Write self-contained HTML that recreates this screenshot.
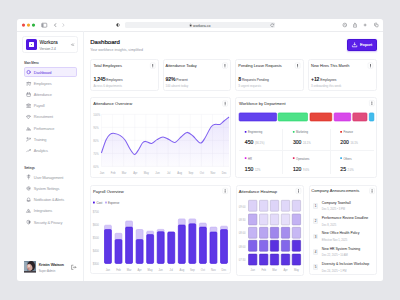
<!DOCTYPE html>
<html><head><meta charset="utf-8">
<style>
*{margin:0;padding:0;box-sizing:border-box}
html,body{width:400px;height:300px;overflow:hidden;background:#e5e6ea;font-family:"Liberation Sans",sans-serif;color:#1b1c22;position:relative}
.a{position:absolute}
.t{position:absolute;white-space:nowrap;line-height:1}
.kb{position:absolute;width:4.4px;height:4.8px;border:0.5px solid #dfe1e6;border-radius:0.9px;background:#fff}
.kb:after{content:"";position:absolute;left:1.45px;top:0.8px;width:0.6px;height:0.6px;background:#666;box-shadow:0 1.05px 0 #666,0 2.1px 0 #666;border-radius:50%}
</style></head><body>
<div class="a" style="left:16.8px;top:18.5px;width:366.60px;height:262.50px;background:#fff;border-radius:2.5px"></div>
<div class="a" style="left:17px;top:31px;width:366.00px;height:0.50px;background:#ebecef"></div>
<svg class="a" style="left:0;top:0" width="400" height="300"><circle cx="23.5" cy="25.1" r="1.6" fill="#ec4a45"/><circle cx="28.5" cy="25.1" r="1.6" fill="#f4a629"/><circle cx="33.5" cy="25.1" r="1.6" fill="#2cb43e"/></svg>
<svg class="a" style="left:0;top:0" width="400" height="300"><rect x="41.7" y="23.2" width="5.1" height="4" rx="0.7" fill="none" stroke="#707279" stroke-width="0.55"/><rect x="41.9" y="23.4" width="1.6" height="3.6" fill="#9a9ca3"/></svg>
<div class="a" style="left:125px;top:21.8px;width:150.00px;height:6.40px;background:#f0f1f3;border-radius:1.6px"></div>
<svg class="a" style="left:0;top:0" width="400" height="300"><path d="M56,23.4 L54.5,25.1 L56,26.8" fill="none" stroke="#5a5c63" stroke-width="0.6"/><path d="M62.6,23.4 L64.1,25.1 L62.6,26.8" fill="none" stroke="#b0b2b8" stroke-width="0.55"/><circle cx="118" cy="25" r="1.4" fill="none" stroke="#444" stroke-width="0.5"/><path d="M118,23.6 A1.4,1.4 0 0 0 118,26.4Z" fill="#444"/><path d="M273.4,24.4 A1.45,1.45 0 1 0 273.6,25.6" fill="none" stroke="#707279" stroke-width="0.5"/><path d="M273.9,23.4 V24.6 H272.7" fill="none" stroke="#707279" stroke-width="0.45"/><circle cx="344.8" cy="25" r="1.85" fill="none" stroke="#6a6c73" stroke-width="0.5"/><path d="M344,25.6 L344.8,24.4 L345.6,25.6" fill="none" stroke="#6a6c73" stroke-width="0.45"/><path d="M354.2,24.5 H353.6 V27.2 H356.4 V24.5 H355.8 M355,25.8 V22.9 M354.2,23.7 L355,22.9 L355.8,23.7" fill="none" stroke="#6a6c73" stroke-width="0.5"/><path d="M365.1,23.6 V26.4 M363.7,25 H366.5" fill="none" stroke="#6a6c73" stroke-width="0.55"/><rect x="375.6" y="24.3" width="2.5" height="2.5" rx="0.6" fill="none" stroke="#6a6c73" stroke-width="0.5"/><path d="M374.5,25.8 V23.8 A0.6,0.6 0 0 1 375.1,23.2 H377" fill="none" stroke="#6a6c73" stroke-width="0.5"/></svg>
<svg class="a" style="left:0;top:0" width="400" height="300"><rect x="189.8" y="25" width="1.7" height="1.4" fill="#444"/><path d="M190.15,25.1 V24.4 A0.5,0.5 0 0 1 191.15,24.4 V25.1" fill="none" stroke="#444" stroke-width="0.35"/></svg>
<div class="t" style="left:193.1px;top:25px;font-size:3.55px;color:#3a3b40;font-weight:normal;">workora.co</div>
<div class="a" style="left:83.2px;top:31.3px;width:0.60px;height:249.50px;background:#eef0f3"></div>
<div class="a" style="left:21.6px;top:36px;width:56.90px;height:17.10px;border:0.5px solid #f0f1f4;border-radius:2.5px"></div>
<div class="a" style="left:25.9px;top:39.3px;width:10.80px;height:10.80px;background:#5118e2;border-radius:1.6px"></div>
<div class="a" style="left:28.6px;top:42px;width:5.10px;height:5.10px;background:#fff;border-radius:0.5px"></div>
<div class="a" style="left:30.55px;top:43.95px;width:1.20px;height:1.20px;background:#5118e2;border-radius:50%"></div>
<div class="t" style="left:39.5px;top:41px;font-size:4.85px;color:#1b1c22;font-weight:normal;-webkit-text-stroke:0.06px #1b1c22">Workora</div>
<div class="t" style="left:39.5px;top:48px;font-size:3.25px;color:#6e717a;font-weight:normal;">Version 2.4</div>
<svg class="a" style="left:0;top:0" width="400" height="300"><path d="M72.5,43.6 L71.5,44.7 L72.5,45.8 M73.9,43.6 L72.9,44.7 L73.9,45.8" fill="none" stroke="#55575e" stroke-width="0.45"/></svg>
<div class="t" style="left:24.2px;top:62px;font-size:2.95px;color:#2e2f36;font-weight:normal;-webkit-text-stroke:0.05px #2e2f36">Main Menu</div>
<div class="a" style="left:23.7px;top:67.3px;width:53.20px;height:9.40px;background:#f3effe;border:0.5px solid #dcd2fb;border-radius:1.8px"></div>
<div class="t" style="left:33.8px;top:71px;font-size:3.9px;color:#5b2ee0;font-weight:normal;letter-spacing:-0.17px">Dashboard</div>
<div class="t" style="left:33.8px;top:82px;font-size:3.9px;color:#979aa4;font-weight:normal;letter-spacing:-0.17px">Employees</div>
<div class="t" style="left:33.8px;top:93px;font-size:3.9px;color:#979aa4;font-weight:normal;letter-spacing:-0.17px">Attendance</div>
<div class="t" style="left:33.8px;top:104px;font-size:3.9px;color:#979aa4;font-weight:normal;letter-spacing:-0.17px">Payroll</div>
<div class="t" style="left:33.8px;top:115px;font-size:3.9px;color:#979aa4;font-weight:normal;letter-spacing:-0.17px">Recruitment</div>
<div class="t" style="left:33.8px;top:127px;font-size:3.9px;color:#979aa4;font-weight:normal;letter-spacing:-0.17px">Performance</div>
<div class="t" style="left:33.8px;top:138px;font-size:3.9px;color:#979aa4;font-weight:normal;letter-spacing:-0.17px">Training</div>
<div class="t" style="left:33.8px;top:149px;font-size:3.9px;color:#979aa4;font-weight:normal;letter-spacing:-0.17px">Analytics</div>
<div class="t" style="left:24.2px;top:167px;font-size:2.95px;color:#2e2f36;font-weight:normal;-webkit-text-stroke:0.05px #2e2f36">Settings</div>
<div class="t" style="left:33.8px;top:176px;font-size:3.9px;color:#979aa4;font-weight:normal;letter-spacing:-0.17px">User Management</div>
<div class="t" style="left:33.8px;top:187px;font-size:3.9px;color:#979aa4;font-weight:normal;letter-spacing:-0.17px">System Settings</div>
<div class="t" style="left:33.8px;top:198px;font-size:3.9px;color:#979aa4;font-weight:normal;letter-spacing:-0.17px">Notification &amp; Alerts</div>
<div class="t" style="left:33.8px;top:209px;font-size:3.9px;color:#979aa4;font-weight:normal;letter-spacing:-0.17px">Integrations</div>
<div class="t" style="left:33.8px;top:221px;font-size:3.9px;color:#979aa4;font-weight:normal;letter-spacing:-0.17px">Security &amp; Privacy</div>
<svg class="a" style="left:0;top:0" width="400" height="300" fill="none" stroke="#80838d" stroke-width="0.5" stroke-linejoin="round" stroke-linecap="round"><circle cx="28.6" cy="72.1" r="1.65" stroke="#5b2ee0" stroke-width="0.6"/><circle cx="27.1" cy="82.9" r="0.5"/><circle cx="28.6" cy="82.6" r="0.55"/><circle cx="30.1" cy="82.9" r="0.5"/><path d="M26.4,84.9 Q27.1,83.7 27.8,84.9 M27.8,84.9 Q28.6,83.4 29.4,84.9 M29.4,84.9 Q30.1,83.7 30.8,84.9"/><rect x="26.8" y="93.2" width="3.6" height="3.3" rx="0.5"/><path d="M27.7,92.6 V93.6 M29.5,92.6 V93.6 M26.8,94.3 H30.4"/><path d="M26.7,104.7 L28.6,103.7 L30.5,104.7 Z M27.3,105 V107 M28.6,105 V107 M29.9,105 V107 M26.7,107.4 H30.5"/><path d="M26.8,116.3 L27.7,115.4 H29.5 L30.4,116.3 L28.6,118.5 Z M26.8,116.3 H30.4"/><path d="M26.7,130 H30.5 M27,130 L28,127.3 L29,130 M28.6,130 L29.5,128.5 L30.3,130"/><circle cx="27.4" cy="138.2" r="0.6"/><path d="M26.6,141.1 Q26.9,139.4 28.2,139.7 M28.7,140 L30.4,138.2 M29.6,138.2 H30.4 V139"/><path d="M26.7,151.8 L27.9,150.5 L28.8,151.1 L30.4,149.6 M29.6,149.6 H30.4 V150.4"/><path d="M28.6,179 V175.9 M27.1,175.9 H30.1 M27.6,177.3 H29.6"/><circle cx="28.6" cy="175.2" r="0.45"/><circle cx="28.6" cy="188.4" r="0.8"/><circle cx="28.6" cy="188.4" r="1.7" stroke-dasharray="0.7 0.45"/><path d="M27.3,200.8 V199.2 A1.3,1.3 0 0 1 29.9,199.2 V200.8 H26.9 H30.3 M28.2,201.4 H29"/><path d="M28.6,209.3 L30.4,212.4 H26.8 Z"/><circle cx="28.6" cy="211.2" r="0.35"/><path d="M28.6,220.4 L30.2,221.1 V222.4 Q30.1,223.6 28.6,224.1 Q27.1,223.6 27,222.4 V221.1 Z"/><path d="M28.6,220.6 V223.9 Q30,223.4 30.1,222.2 V221.2 Z" fill="#80838d" stroke="none"/></svg>
<svg class="a" style="left:0;top:0" width="400" height="300"><defs><clipPath id="av"><rect x="23.9" y="260.9" width="12.2" height="11.7" rx="0.6"/></clipPath><filter id="bl"><feGaussianBlur stdDeviation="0.35"/></filter></defs><g clip-path="url(#av)"><rect x="23.9" y="260.9" width="12.2" height="11.7" fill="#6f8596"/><g filter="url(#bl)"><rect x="23.9" y="262" width="3" height="9" fill="#98aab8"/><ellipse cx="31.2" cy="266" rx="3.9" ry="5" fill="#2a2226"/><ellipse cx="29.6" cy="267.2" rx="2.7" ry="3.5" fill="#d2a79c" transform="rotate(-20 29.6 267.2)"/><ellipse cx="29" cy="266" rx="1.2" ry="1.2" fill="#ecd0c8"/><ellipse cx="28.6" cy="269" rx="0.9" ry="0.45" fill="#b04a50"/><rect x="23.9" y="271.2" width="12.2" height="2" fill="#3c3236"/></g></g></svg>
<div class="t" style="left:38.7px;top:263px;font-size:3.95px;color:#1b1c22;font-weight:normal;-webkit-text-stroke:0.1px #1b1c22">Kristin Watson</div>
<div class="t" style="left:38.7px;top:270px;font-size:2.9px;color:#8d909b;font-weight:normal;">Super Admin</div>
<svg class="a" style="left:0;top:0" width="400" height="300" fill="none" stroke="#555" stroke-width="0.5"><path d="M73.4,265.2 H71.6 V269.4 H73.4 M72.9,267.3 H76 M75,266.3 L76,267.3 L75,268.3"/></svg>
<div class="t" style="left:90.2px;top:39px;font-size:6.1px;color:#16171d;font-weight:normal;-webkit-text-stroke:0.2px #16171d">Dashboard</div>
<div class="t" style="left:90.2px;top:49px;font-size:3.52px;color:#9296a3;font-weight:normal;">Your workforce insights, simplified</div>
<div class="a" style="left:347.1px;top:38.7px;width:29.90px;height:12.10px;background:#5a1fe8;border:0.5px solid #4913d8;border-radius:1.6px;box-shadow:0 0.5px 1.5px rgba(90,31,232,0.25)"></div>
<svg class="a" style="left:0;top:0" width="400" height="300"><path d="M354.6,42.4 V45 M353.5,44 L354.6,45.2 L355.7,44" fill="none" stroke="#fff" stroke-width="0.7"/><path d="M352.4,45.4 V46.8 H356.8 V45.4" fill="none" stroke="#fff" stroke-width="0.7"/></svg>
<div class="t" style="left:360px;top:43px;font-size:4.2px;color:#fff;font-weight:normal;-webkit-text-stroke:0.12px #fff">Export</div>
<div class="a" style="left:90.3px;top:59.2px;width:68.90px;height:32.00px;background:#fff;border:0.5px solid #f0f1f4;border-radius:2.5px"></div>
<div class="t" style="left:93.39999999999999px;top:64px;font-size:3.9px;color:#1b1c22;font-weight:normal;">Total Employees</div>
<svg class="a" style="left:0;top:0" width="400" height="300"><rect x="150.30" y="62.90" width="4.9" height="5.4" rx="1" fill="#fff" stroke="#e6e8ec" stroke-width="0.5"/><circle cx="152.75" cy="64.40" r="0.5" fill="#45474e"/><circle cx="152.75" cy="65.60" r="0.5" fill="#45474e"/><circle cx="152.75" cy="66.80" r="0.5" fill="#45474e"/></svg>
<div class="t" style="left:93.39999999999999px;top:76.6px;font-size:5.2px;font-weight:bold;letter-spacing:-0.2px;color:#16171d">1,245<span style="font-size:3.3px;font-weight:normal;letter-spacing:0;color:#3a3b44;margin-left:0.9px">Employees</span></div>
<div class="t" style="left:93.39999999999999px;top:85px;font-size:2.95px;color:#b3b6be;font-weight:normal;">Across 6 departments</div>
<div class="a" style="left:162.5px;top:59.2px;width:68.90px;height:32.00px;background:#fff;border:0.5px solid #f0f1f4;border-radius:2.5px"></div>
<div class="t" style="left:165.6px;top:64px;font-size:3.9px;color:#1b1c22;font-weight:normal;">Attendance Today</div>
<svg class="a" style="left:0;top:0" width="400" height="300"><rect x="222.50" y="62.90" width="4.9" height="5.4" rx="1" fill="#fff" stroke="#e6e8ec" stroke-width="0.5"/><circle cx="224.95" cy="64.40" r="0.5" fill="#45474e"/><circle cx="224.95" cy="65.60" r="0.5" fill="#45474e"/><circle cx="224.95" cy="66.80" r="0.5" fill="#45474e"/></svg>
<div class="t" style="left:165.6px;top:76.6px;font-size:5.2px;font-weight:bold;letter-spacing:-0.2px;color:#16171d">92%<span style="font-size:3.3px;font-weight:normal;letter-spacing:0;color:#3a3b44;margin-left:0.9px">Present</span></div>
<div class="t" style="left:165.6px;top:85px;font-size:2.95px;color:#b3b6be;font-weight:normal;">100 absent today</div>
<div class="a" style="left:235.2px;top:59.2px;width:68.90px;height:32.00px;background:#fff;border:0.5px solid #f0f1f4;border-radius:2.5px"></div>
<div class="t" style="left:238.29999999999998px;top:64px;font-size:3.9px;color:#1b1c22;font-weight:normal;">Pending Leave Requests</div>
<svg class="a" style="left:0;top:0" width="400" height="300"><rect x="295.20" y="62.90" width="4.9" height="5.4" rx="1" fill="#fff" stroke="#e6e8ec" stroke-width="0.5"/><circle cx="297.65" cy="64.40" r="0.5" fill="#45474e"/><circle cx="297.65" cy="65.60" r="0.5" fill="#45474e"/><circle cx="297.65" cy="66.80" r="0.5" fill="#45474e"/></svg>
<div class="t" style="left:238.29999999999998px;top:76.6px;font-size:5.2px;font-weight:bold;letter-spacing:-0.2px;color:#16171d">8<span style="font-size:3.3px;font-weight:normal;letter-spacing:0;color:#3a3b44;margin-left:0.9px">Requests Pending</span></div>
<div class="t" style="left:238.29999999999998px;top:85px;font-size:2.95px;color:#b3b6be;font-weight:normal;">3 urgent requests</div>
<div class="a" style="left:308px;top:59.2px;width:68.90px;height:32.00px;background:#fff;border:0.5px solid #f0f1f4;border-radius:2.5px"></div>
<div class="t" style="left:311.1px;top:64px;font-size:3.9px;color:#1b1c22;font-weight:normal;">New Hires This Month</div>
<svg class="a" style="left:0;top:0" width="400" height="300"><rect x="368.00" y="62.90" width="4.9" height="5.4" rx="1" fill="#fff" stroke="#e6e8ec" stroke-width="0.5"/><circle cx="370.45" cy="64.40" r="0.5" fill="#45474e"/><circle cx="370.45" cy="65.60" r="0.5" fill="#45474e"/><circle cx="370.45" cy="66.80" r="0.5" fill="#45474e"/></svg>
<div class="t" style="left:311.1px;top:76.6px;font-size:5.2px;font-weight:bold;letter-spacing:-0.2px;color:#16171d">+12<span style="font-size:3.3px;font-weight:normal;letter-spacing:0;color:#3a3b44;margin-left:0.9px">Employees</span></div>
<div class="t" style="left:311.1px;top:85px;font-size:2.95px;color:#b3b6be;font-weight:normal;">3 onboarding this week</div>
<div class="a" style="left:90.3px;top:97.3px;width:140.60px;height:80.60px;background:#fff;border:0.5px solid #f0f1f4;border-radius:2.5px"></div>
<div class="t" style="left:93.2px;top:102px;font-size:4.1px;color:#1b1c22;font-weight:normal;">Attendance Overview</div>
<svg class="a" style="left:0;top:0" width="400" height="300"><rect x="222.70" y="100.80" width="4.9" height="5.4" rx="1" fill="#fff" stroke="#e6e8ec" stroke-width="0.5"/><circle cx="225.15" cy="102.30" r="0.5" fill="#45474e"/><circle cx="225.15" cy="103.50" r="0.5" fill="#45474e"/><circle cx="225.15" cy="104.70" r="0.5" fill="#45474e"/></svg>
<svg class="a" style="left:0;top:0" width="400" height="300"><defs><linearGradient id="af" x1="0" y1="0" x2="0" y2="1"><stop offset="0" stop-color="#7b5cf0" stop-opacity="0.16"/><stop offset="1" stop-color="#7b5cf0" stop-opacity="0.02"/></linearGradient></defs><line x1="101.4" y1="114.4" x2="229" y2="114.4" stroke="#f0f1f4" stroke-width="0.4"/><line x1="101.4" y1="127.4" x2="229" y2="127.4" stroke="#f0f1f4" stroke-width="0.4"/><line x1="101.4" y1="140.4" x2="229" y2="140.4" stroke="#f0f1f4" stroke-width="0.4"/><line x1="101.4" y1="153.4" x2="229" y2="153.4" stroke="#f0f1f4" stroke-width="0.4"/><line x1="101.4" y1="166.4" x2="229" y2="166.4" stroke="#f0f1f4" stroke-width="0.4"/><line x1="101.50" y1="114.4" x2="101.50" y2="166.4" stroke="#f0f1f4" stroke-width="0.4"/><line x1="112.60" y1="114.4" x2="112.60" y2="166.4" stroke="#f0f1f4" stroke-width="0.4"/><line x1="123.70" y1="114.4" x2="123.70" y2="166.4" stroke="#f0f1f4" stroke-width="0.4"/><line x1="134.80" y1="114.4" x2="134.80" y2="166.4" stroke="#f0f1f4" stroke-width="0.4"/><line x1="145.90" y1="114.4" x2="145.90" y2="166.4" stroke="#f0f1f4" stroke-width="0.4"/><line x1="157.00" y1="114.4" x2="157.00" y2="166.4" stroke="#f0f1f4" stroke-width="0.4"/><line x1="168.10" y1="114.4" x2="168.10" y2="166.4" stroke="#f0f1f4" stroke-width="0.4"/><line x1="179.20" y1="114.4" x2="179.20" y2="166.4" stroke="#f0f1f4" stroke-width="0.4"/><line x1="190.30" y1="114.4" x2="190.30" y2="166.4" stroke="#f0f1f4" stroke-width="0.4"/><line x1="201.40" y1="114.4" x2="201.40" y2="166.4" stroke="#f0f1f4" stroke-width="0.4"/><line x1="212.50" y1="114.4" x2="212.50" y2="166.4" stroke="#f0f1f4" stroke-width="0.4"/><line x1="223.60" y1="114.4" x2="223.60" y2="166.4" stroke="#f0f1f4" stroke-width="0.4"/><path d="M101.4,153 C102.17,150.83 104.57,143.10 106,140 C107.43,136.90 108.60,135.50 110,134.4 C111.40,133.30 112.73,133.23 114.4,133.4 C116.07,133.57 118.23,134.30 120,135.4 C121.77,136.50 123.33,137.73 125,140 C126.67,142.27 128.40,146.60 130,149 C131.60,151.40 133.10,154.40 134.6,154.4 C136.10,154.40 137.70,150.90 139,149 C140.30,147.10 141.30,144.27 142.4,143 C143.50,141.73 144.07,141.33 145.6,141.4 C147.13,141.47 149.70,143.70 151.6,143.4 C153.50,143.10 155.10,140.67 157,139.6 C158.90,138.53 161.00,137.00 163,137 C165.00,137.00 167.00,138.70 169,139.6 C171.00,140.50 173.00,142.83 175,142.4 C177.00,141.97 179.00,138.67 181,137 C183.00,135.33 185.00,132.57 187,132.4 C189.00,132.23 191.33,134.67 193,136 C194.67,137.33 195.67,139.23 197,140.4 C198.33,141.57 199.67,143.40 201,143 C202.33,142.60 203.33,140.67 205,138 C206.67,135.33 209.33,129.27 211,127 C212.67,124.73 213.50,124.83 215,124.4 C216.50,123.97 218.50,124.97 220,124.4 C221.50,123.83 222.50,122.23 224,121 C225.50,119.77 228.17,117.67 229,117 L229,166.4 L101.4,166.4 Z" fill="url(#af)"/><path d="M101.4,153 C102.17,150.83 104.57,143.10 106,140 C107.43,136.90 108.60,135.50 110,134.4 C111.40,133.30 112.73,133.23 114.4,133.4 C116.07,133.57 118.23,134.30 120,135.4 C121.77,136.50 123.33,137.73 125,140 C126.67,142.27 128.40,146.60 130,149 C131.60,151.40 133.10,154.40 134.6,154.4 C136.10,154.40 137.70,150.90 139,149 C140.30,147.10 141.30,144.27 142.4,143 C143.50,141.73 144.07,141.33 145.6,141.4 C147.13,141.47 149.70,143.70 151.6,143.4 C153.50,143.10 155.10,140.67 157,139.6 C158.90,138.53 161.00,137.00 163,137 C165.00,137.00 167.00,138.70 169,139.6 C171.00,140.50 173.00,142.83 175,142.4 C177.00,141.97 179.00,138.67 181,137 C183.00,135.33 185.00,132.57 187,132.4 C189.00,132.23 191.33,134.67 193,136 C194.67,137.33 195.67,139.23 197,140.4 C198.33,141.57 199.67,143.40 201,143 C202.33,142.60 203.33,140.67 205,138 C206.67,135.33 209.33,129.27 211,127 C212.67,124.73 213.50,124.83 215,124.4 C216.50,123.97 218.50,124.97 220,124.4 C221.50,123.83 222.50,122.23 224,121 C225.50,119.77 228.17,117.67 229,117" fill="none" stroke="#8061f0" stroke-width="1.05"/></svg>
<div class="t" style="left:93.3px;top:115px;font-size:2.7px;color:#aeb1b9;font-weight:normal;">100%</div>
<div class="t" style="left:93.3px;top:128px;font-size:2.7px;color:#aeb1b9;font-weight:normal;">90%</div>
<div class="t" style="left:93.3px;top:141px;font-size:2.7px;color:#aeb1b9;font-weight:normal;">80%</div>
<div class="t" style="left:93.3px;top:154px;font-size:2.7px;color:#aeb1b9;font-weight:normal;">70%</div>
<div class="t" style="left:93.3px;top:167px;font-size:2.7px;color:#aeb1b9;font-weight:normal;">60%</div>
<div class="t" style="left:96.00px;width:12px;text-align:center;top:173px;font-size:2.7px;color:#a5a8b0">Jan</div>
<div class="t" style="left:107.10px;width:12px;text-align:center;top:173px;font-size:2.7px;color:#a5a8b0">Feb</div>
<div class="t" style="left:118.20px;width:12px;text-align:center;top:173px;font-size:2.7px;color:#a5a8b0">Mar</div>
<div class="t" style="left:129.30px;width:12px;text-align:center;top:173px;font-size:2.7px;color:#a5a8b0">Apr</div>
<div class="t" style="left:140.40px;width:12px;text-align:center;top:173px;font-size:2.7px;color:#a5a8b0">May</div>
<div class="t" style="left:151.50px;width:12px;text-align:center;top:173px;font-size:2.7px;color:#a5a8b0">Jun</div>
<div class="t" style="left:162.60px;width:12px;text-align:center;top:173px;font-size:2.7px;color:#a5a8b0">Jul</div>
<div class="t" style="left:173.70px;width:12px;text-align:center;top:173px;font-size:2.7px;color:#a5a8b0">Aug</div>
<div class="t" style="left:184.80px;width:12px;text-align:center;top:173px;font-size:2.7px;color:#a5a8b0">Sep</div>
<div class="t" style="left:195.90px;width:12px;text-align:center;top:173px;font-size:2.7px;color:#a5a8b0">Oct</div>
<div class="t" style="left:207.00px;width:12px;text-align:center;top:173px;font-size:2.7px;color:#a5a8b0">Nov</div>
<div class="t" style="left:218.10px;width:12px;text-align:center;top:173px;font-size:2.7px;color:#a5a8b0">Dec</div>
<div class="a" style="left:235.3px;top:97.3px;width:141.90px;height:80.90px;background:#fff;border:0.5px solid #f0f1f4;border-radius:2.5px"></div>
<div class="t" style="left:239px;top:102px;font-size:4.1px;color:#1b1c22;font-weight:normal;">Workforce by Department</div>
<svg class="a" style="left:0;top:0" width="400" height="300"><rect x="369.40" y="100.40" width="4.9" height="5.4" rx="1" fill="#fff" stroke="#e6e8ec" stroke-width="0.5"/><circle cx="371.85" cy="101.90" r="0.5" fill="#45474e"/><circle cx="371.85" cy="103.10" r="0.5" fill="#45474e"/><circle cx="371.85" cy="104.30" r="0.5" fill="#45474e"/></svg>
<svg class="a" style="left:0;top:0" width="400" height="300"><rect x="239.10" y="112.9" width="37.50" height="8.1" rx="1" fill="#6243ee" stroke="#4a20e6" stroke-width="0.6"/></svg>
<svg class="a" style="left:0;top:0" width="400" height="300"><rect x="278.10" y="112.9" width="29.40" height="8.1" rx="1" fill="#4ee288" stroke="#22d868" stroke-width="0.6"/></svg>
<svg class="a" style="left:0;top:0" width="400" height="300"><rect x="310.00" y="112.9" width="21.80" height="8.1" rx="1" fill="#e6473c" stroke="#dc2a20" stroke-width="0.6"/></svg>
<svg class="a" style="left:0;top:0" width="400" height="300"><rect x="334.10" y="112.9" width="16.60" height="8.1" rx="1" fill="#d84aea" stroke="#cc28e2" stroke-width="0.6"/></svg>
<svg class="a" style="left:0;top:0" width="400" height="300"><rect x="352.80" y="112.9" width="14.20" height="8.1" rx="1" fill="#e04d7d" stroke="#d62c66" stroke-width="0.6"/></svg>
<svg class="a" style="left:0;top:0" width="400" height="300"><rect x="369.30" y="112.9" width="4.60" height="8.1" rx="1" fill="#42bcec" stroke="#20a8e4" stroke-width="0.6"/></svg>
<div class="a" style="left:238.7px;top:150.3px;width:135.50px;height:0.50px;background:#f3f4f6"></div>
<div class="a" style="left:282.1px;top:128.7px;width:0.50px;height:45.70px;background:#f3f4f6"></div>
<div class="a" style="left:330.3px;top:128.7px;width:0.50px;height:45.70px;background:#f3f4f6"></div>
<svg class="a" style="left:0;top:0" width="400" height="300"><rect x="244.75" y="130.95" width="1.7" height="1.7" rx="0.35" fill="#4f1ae6"/></svg>
<div class="t" style="left:248.0px;top:132px;font-size:2.7px;color:#6a6d77;font-weight:normal;">Engineering</div>
<div class="t" style="left:244.79999999999998px;top:140px;font-size:5.1px;color:#16171d;-webkit-text-stroke:0.15px #16171d">450<span style="font-size:2.7px;color:#a9acb4;margin-left:1.6px;-webkit-text-stroke:0">(36.1%)</span></div>
<svg class="a" style="left:0;top:0" width="400" height="300"><rect x="292.85" y="130.95" width="1.7" height="1.7" rx="0.35" fill="#2fd46e"/></svg>
<div class="t" style="left:296.09999999999997px;top:132px;font-size:2.7px;color:#6a6d77;font-weight:normal;">Marketing</div>
<div class="t" style="left:292.9px;top:140px;font-size:5.1px;color:#16171d;-webkit-text-stroke:0.15px #16171d">300<span style="font-size:2.7px;color:#a9acb4;margin-left:1.6px;-webkit-text-stroke:0">24.1%</span></div>
<svg class="a" style="left:0;top:0" width="400" height="300"><rect x="340.25" y="130.95" width="1.7" height="1.7" rx="0.35" fill="#e2231a"/></svg>
<div class="t" style="left:343.5px;top:132px;font-size:2.7px;color:#6a6d77;font-weight:normal;">Finance</div>
<div class="t" style="left:340.3px;top:140px;font-size:5.1px;color:#16171d;-webkit-text-stroke:0.15px #16171d">200<span style="font-size:2.7px;color:#a9acb4;margin-left:1.6px;-webkit-text-stroke:0">16.1%</span></div>
<svg class="a" style="left:0;top:0" width="400" height="300"><rect x="244.75" y="157.25" width="1.7" height="1.7" rx="0.35" fill="#d91ee6"/></svg>
<div class="t" style="left:248.0px;top:159px;font-size:2.7px;color:#6a6d77;font-weight:normal;">HR</div>
<div class="t" style="left:244.79999999999998px;top:167px;font-size:5.1px;color:#16171d;-webkit-text-stroke:0.15px #16171d">150<span style="font-size:2.7px;color:#a9acb4;margin-left:1.6px;-webkit-text-stroke:0">12%</span></div>
<svg class="a" style="left:0;top:0" width="400" height="300"><rect x="292.85" y="157.25" width="1.7" height="1.7" rx="0.35" fill="#e0245e"/></svg>
<div class="t" style="left:296.09999999999997px;top:159px;font-size:2.7px;color:#6a6d77;font-weight:normal;">Operations</div>
<div class="t" style="left:292.9px;top:167px;font-size:5.1px;color:#16171d;-webkit-text-stroke:0.15px #16171d">120<span style="font-size:2.7px;color:#a9acb4;margin-left:1.6px;-webkit-text-stroke:0">9.6%</span></div>
<svg class="a" style="left:0;top:0" width="400" height="300"><rect x="340.25" y="157.25" width="1.7" height="1.7" rx="0.35" fill="#2aa8e6"/></svg>
<div class="t" style="left:343.5px;top:159px;font-size:2.7px;color:#6a6d77;font-weight:normal;">Others</div>
<div class="t" style="left:340.3px;top:167px;font-size:5.1px;color:#16171d;-webkit-text-stroke:0.15px #16171d">25<span style="font-size:2.7px;color:#a9acb4;margin-left:1.6px;-webkit-text-stroke:0">2.0%</span></div>
<div class="a" style="left:90.2px;top:184.7px;width:140.60px;height:89.60px;background:#fff;border:0.5px solid #f0f1f4;border-radius:2.5px"></div>
<div class="t" style="left:93px;top:190px;font-size:4.1px;color:#1b1c22;font-weight:normal;">Payroll Overview</div>
<svg class="a" style="left:0;top:0" width="400" height="300"><rect x="222.70" y="188.20" width="4.9" height="5.4" rx="1" fill="#fff" stroke="#e6e8ec" stroke-width="0.5"/><circle cx="225.15" cy="189.70" r="0.5" fill="#45474e"/><circle cx="225.15" cy="190.90" r="0.5" fill="#45474e"/><circle cx="225.15" cy="192.10" r="0.5" fill="#45474e"/></svg>
<svg class="a" style="left:0;top:0" width="400" height="300"><rect x="93" y="201.6" width="1.8" height="1.8" rx="0.35" fill="#4d17e6"/><rect x="105.1" y="201.6" width="1.8" height="1.8" rx="0.35" fill="#b9a3f5"/></svg>
<div class="t" style="left:96.4px;top:202px;font-size:2.9px;color:#5e6169;font-weight:normal;">Cost</div>
<div class="t" style="left:108px;top:202px;font-size:2.9px;color:#5e6169;font-weight:normal;">Expense</div>
<div class="t" style="left:92.7px;top:211px;font-size:2.8px;color:#aeb1b9;font-weight:normal;">$700</div>
<div class="t" style="left:92.7px;top:224px;font-size:2.8px;color:#aeb1b9;font-weight:normal;">$600</div>
<div class="t" style="left:92.7px;top:237px;font-size:2.8px;color:#aeb1b9;font-weight:normal;">$500</div>
<div class="t" style="left:92.7px;top:250px;font-size:2.8px;color:#aeb1b9;font-weight:normal;">$400</div>
<div class="t" style="left:92.7px;top:263px;font-size:2.8px;color:#aeb1b9;font-weight:normal;">$300</div>
<svg class="a" style="left:0;top:0" width="400" height="300"><rect x="104.50" y="225.20" width="6.9" height="38.20" rx="1.1" fill="#d3c6f8" stroke="#c2aff4" stroke-width="0.6"/><rect x="104.50" y="229.50" width="6.9" height="33.90" rx="1.1" fill="#5e37e6" stroke="#4a1edf" stroke-width="0.6"/></svg>
<div class="t" style="left:101.95px;width:12px;text-align:center;top:270px;font-size:2.7px;color:#a5a8b0">Jan</div>
<svg class="a" style="left:0;top:0" width="400" height="300"><rect x="115.05" y="233.30" width="6.9" height="30.10" rx="1.1" fill="#d3c6f8" stroke="#c2aff4" stroke-width="0.6"/><rect x="115.05" y="239.60" width="6.9" height="23.80" rx="1.1" fill="#5e37e6" stroke="#4a1edf" stroke-width="0.6"/></svg>
<div class="t" style="left:112.50px;width:12px;text-align:center;top:270px;font-size:2.7px;color:#a5a8b0">Feb</div>
<svg class="a" style="left:0;top:0" width="400" height="300"><rect x="125.60" y="221.00" width="6.9" height="42.40" rx="1.1" fill="#d3c6f8" stroke="#c2aff4" stroke-width="0.6"/><rect x="125.60" y="227.10" width="6.9" height="36.30" rx="1.1" fill="#5e37e6" stroke="#4a1edf" stroke-width="0.6"/></svg>
<div class="t" style="left:123.05px;width:12px;text-align:center;top:270px;font-size:2.7px;color:#a5a8b0">Mar</div>
<svg class="a" style="left:0;top:0" width="400" height="300"><rect x="136.15" y="229.50" width="6.9" height="33.90" rx="1.1" fill="#d3c6f8" stroke="#c2aff4" stroke-width="0.6"/><rect x="136.15" y="239.60" width="6.9" height="23.80" rx="1.1" fill="#5e37e6" stroke="#4a1edf" stroke-width="0.6"/></svg>
<div class="t" style="left:133.60px;width:12px;text-align:center;top:270px;font-size:2.7px;color:#a5a8b0">Apr</div>
<svg class="a" style="left:0;top:0" width="400" height="300"><rect x="146.70" y="231.20" width="6.9" height="32.20" rx="1.1" fill="#d3c6f8" stroke="#c2aff4" stroke-width="0.6"/><rect x="146.70" y="234.60" width="6.9" height="28.80" rx="1.1" fill="#5e37e6" stroke="#4a1edf" stroke-width="0.6"/></svg>
<div class="t" style="left:144.15px;width:12px;text-align:center;top:270px;font-size:2.7px;color:#a5a8b0">May</div>
<svg class="a" style="left:0;top:0" width="400" height="300"><rect x="157.25" y="229.40" width="6.9" height="34.00" rx="1.1" fill="#d3c6f8" stroke="#c2aff4" stroke-width="0.6"/><rect x="157.25" y="231.70" width="6.9" height="31.70" rx="1.1" fill="#5e37e6" stroke="#4a1edf" stroke-width="0.6"/></svg>
<div class="t" style="left:154.70px;width:12px;text-align:center;top:270px;font-size:2.7px;color:#a5a8b0">Jun</div>
<svg class="a" style="left:0;top:0" width="400" height="300"><rect x="167.80" y="232.00" width="6.9" height="31.40" rx="1.1" fill="#d3c6f8" stroke="#c2aff4" stroke-width="0.6"/><rect x="167.80" y="232.00" width="6.9" height="31.40" rx="1.1" fill="#5e37e6" stroke="#4a1edf" stroke-width="0.6"/></svg>
<div class="t" style="left:165.25px;width:12px;text-align:center;top:270px;font-size:2.7px;color:#a5a8b0">Jul</div>
<svg class="a" style="left:0;top:0" width="400" height="300"><rect x="178.35" y="218.90" width="6.9" height="44.50" rx="1.1" fill="#d3c6f8" stroke="#c2aff4" stroke-width="0.6"/><rect x="178.35" y="225.00" width="6.9" height="38.40" rx="1.1" fill="#5e37e6" stroke="#4a1edf" stroke-width="0.6"/></svg>
<div class="t" style="left:175.80px;width:12px;text-align:center;top:270px;font-size:2.7px;color:#a5a8b0">Aug</div>
<svg class="a" style="left:0;top:0" width="400" height="300"><rect x="188.90" y="218.90" width="6.9" height="44.50" rx="1.1" fill="#d3c6f8" stroke="#c2aff4" stroke-width="0.6"/><rect x="188.90" y="223.80" width="6.9" height="39.60" rx="1.1" fill="#5e37e6" stroke="#4a1edf" stroke-width="0.6"/></svg>
<div class="t" style="left:186.35px;width:12px;text-align:center;top:270px;font-size:2.7px;color:#a5a8b0">Sep</div>
<svg class="a" style="left:0;top:0" width="400" height="300"><rect x="199.45" y="223.10" width="6.9" height="40.30" rx="1.1" fill="#d3c6f8" stroke="#c2aff4" stroke-width="0.6"/><rect x="199.45" y="227.10" width="6.9" height="36.30" rx="1.1" fill="#5e37e6" stroke="#4a1edf" stroke-width="0.6"/></svg>
<div class="t" style="left:196.90px;width:12px;text-align:center;top:270px;font-size:2.7px;color:#a5a8b0">Oct</div>
<svg class="a" style="left:0;top:0" width="400" height="300"><rect x="210.00" y="227.10" width="6.9" height="36.30" rx="1.1" fill="#d3c6f8" stroke="#c2aff4" stroke-width="0.6"/><rect x="210.00" y="232.00" width="6.9" height="31.40" rx="1.1" fill="#5e37e6" stroke="#4a1edf" stroke-width="0.6"/></svg>
<div class="t" style="left:207.45px;width:12px;text-align:center;top:270px;font-size:2.7px;color:#a5a8b0">Nov</div>
<svg class="a" style="left:0;top:0" width="400" height="300"><rect x="220.55" y="226.20" width="6.9" height="37.20" rx="1.1" fill="#d3c6f8" stroke="#c2aff4" stroke-width="0.6"/><rect x="220.55" y="229.60" width="6.9" height="33.80" rx="1.1" fill="#5e37e6" stroke="#4a1edf" stroke-width="0.6"/></svg>
<div class="t" style="left:218.00px;width:12px;text-align:center;top:270px;font-size:2.7px;color:#a5a8b0">Dec</div>
<div class="a" style="left:235.5px;top:184.9px;width:68.70px;height:90.70px;background:#fff;border:0.5px solid #f0f1f4;border-radius:2.5px"></div>
<div class="t" style="left:238.7px;top:190px;font-size:4.1px;color:#1b1c22;font-weight:normal;">Attendance Heatmap</div>
<svg class="a" style="left:0;top:0" width="400" height="300"><rect x="296.00" y="188.20" width="4.9" height="5.4" rx="1" fill="#fff" stroke="#e6e8ec" stroke-width="0.5"/><circle cx="298.45" cy="189.70" r="0.5" fill="#45474e"/><circle cx="298.45" cy="190.90" r="0.5" fill="#45474e"/><circle cx="298.45" cy="192.10" r="0.5" fill="#45474e"/></svg>
<svg class="a" style="left:0;top:0" width="400" height="300"><rect x="248.50" y="200.30" width="8.4" height="10.9" rx="0.6" fill="#dcd2f8" stroke="#bbb2d2" stroke-width="0.6"/></svg>
<svg class="a" style="left:0;top:0" width="400" height="300"><rect x="259.50" y="200.30" width="8.4" height="10.9" rx="0.6" fill="#e0d8f9" stroke="#beb7d3" stroke-width="0.6"/></svg>
<svg class="a" style="left:0;top:0" width="400" height="300"><rect x="270.30" y="200.30" width="8.4" height="10.9" rx="0.6" fill="#ddd4f8" stroke="#bbb4d2" stroke-width="0.6"/></svg>
<svg class="a" style="left:0;top:0" width="400" height="300"><rect x="281.30" y="200.30" width="8.4" height="10.9" rx="0.6" fill="#e0d8f9" stroke="#beb7d3" stroke-width="0.6"/></svg>
<svg class="a" style="left:0;top:0" width="400" height="300"><rect x="292.20" y="200.30" width="8.4" height="10.9" rx="0.6" fill="#ddd4f8" stroke="#bbb4d2" stroke-width="0.6"/></svg>
<svg class="a" style="left:0;top:0" width="400" height="300"><rect x="248.50" y="214.00" width="8.4" height="10.9" rx="0.6" fill="#c0aef2" stroke="#a393cd" stroke-width="0.6"/></svg>
<svg class="a" style="left:0;top:0" width="400" height="300"><rect x="259.50" y="214.00" width="8.4" height="10.9" rx="0.6" fill="#e3dbfa" stroke="#c0bad4" stroke-width="0.6"/></svg>
<svg class="a" style="left:0;top:0" width="400" height="300"><rect x="270.30" y="214.00" width="8.4" height="10.9" rx="0.6" fill="#e3dbfa" stroke="#c0bad4" stroke-width="0.6"/></svg>
<svg class="a" style="left:0;top:0" width="400" height="300"><rect x="281.30" y="214.00" width="8.4" height="10.9" rx="0.6" fill="#e6dffa" stroke="#c3bdd4" stroke-width="0.6"/></svg>
<svg class="a" style="left:0;top:0" width="400" height="300"><rect x="292.20" y="214.00" width="8.4" height="10.9" rx="0.6" fill="#c3b2f3" stroke="#a597ce" stroke-width="0.6"/></svg>
<svg class="a" style="left:0;top:0" width="400" height="300"><rect x="248.50" y="227.30" width="8.4" height="10.9" rx="0.6" fill="#c4b4f4" stroke="#a699cf" stroke-width="0.6"/></svg>
<svg class="a" style="left:0;top:0" width="400" height="300"><rect x="259.50" y="227.30" width="8.4" height="10.9" rx="0.6" fill="#b8a5f1" stroke="#9c8ccc" stroke-width="0.6"/></svg>
<svg class="a" style="left:0;top:0" width="400" height="300"><rect x="270.30" y="227.30" width="8.4" height="10.9" rx="0.6" fill="#9f86ec" stroke="#8771c8" stroke-width="0.6"/></svg>
<svg class="a" style="left:0;top:0" width="400" height="300"><rect x="281.30" y="227.30" width="8.4" height="10.9" rx="0.6" fill="#a58dee" stroke="#8c77ca" stroke-width="0.6"/></svg>
<svg class="a" style="left:0;top:0" width="400" height="300"><rect x="292.20" y="227.30" width="8.4" height="10.9" rx="0.6" fill="#c7b8f4" stroke="#a99ccf" stroke-width="0.6"/></svg>
<svg class="a" style="left:0;top:0" width="400" height="300"><rect x="248.50" y="240.30" width="8.4" height="10.9" rx="0.6" fill="#8062ea" stroke="#6c53c6" stroke-width="0.6"/></svg>
<svg class="a" style="left:0;top:0" width="400" height="300"><rect x="259.50" y="240.30" width="8.4" height="10.9" rx="0.6" fill="#876aeb" stroke="#725ac7" stroke-width="0.6"/></svg>
<svg class="a" style="left:0;top:0" width="400" height="300"><rect x="270.30" y="240.30" width="8.4" height="10.9" rx="0.6" fill="#5a30e0" stroke="#4c28be" stroke-width="0.6"/></svg>
<svg class="a" style="left:0;top:0" width="400" height="300"><rect x="281.30" y="240.30" width="8.4" height="10.9" rx="0.6" fill="#8367ea" stroke="#6f57c6" stroke-width="0.6"/></svg>
<svg class="a" style="left:0;top:0" width="400" height="300"><rect x="292.20" y="240.30" width="8.4" height="10.9" rx="0.6" fill="#5b32e1" stroke="#4d2abf" stroke-width="0.6"/></svg>
<svg class="a" style="left:0;top:0" width="400" height="300"><rect x="248.50" y="254.10" width="8.4" height="10.9" rx="0.6" fill="#5d34e2" stroke="#4f2cc0" stroke-width="0.6"/></svg>
<svg class="a" style="left:0;top:0" width="400" height="300"><rect x="259.50" y="254.10" width="8.4" height="10.9" rx="0.6" fill="#5b33e1" stroke="#4d2bbf" stroke-width="0.6"/></svg>
<svg class="a" style="left:0;top:0" width="400" height="300"><rect x="270.30" y="254.10" width="8.4" height="10.9" rx="0.6" fill="#5a31e1" stroke="#4c29bf" stroke-width="0.6"/></svg>
<svg class="a" style="left:0;top:0" width="400" height="300"><rect x="281.30" y="254.10" width="8.4" height="10.9" rx="0.6" fill="#5b33e1" stroke="#4d2bbf" stroke-width="0.6"/></svg>
<svg class="a" style="left:0;top:0" width="400" height="300"><rect x="292.20" y="254.10" width="8.4" height="10.9" rx="0.6" fill="#5a31e1" stroke="#4c29bf" stroke-width="0.6"/></svg>
<div class="t" style="left:238.7px;top:207px;font-size:2.7px;color:#aeb1b9;font-weight:normal;">09:00</div>
<div class="t" style="left:238.7px;top:220px;font-size:2.7px;color:#aeb1b9;font-weight:normal;">08:30</div>
<div class="t" style="left:238.7px;top:233px;font-size:2.7px;color:#aeb1b9;font-weight:normal;">08:00</div>
<div class="t" style="left:238.7px;top:247px;font-size:2.7px;color:#aeb1b9;font-weight:normal;">08:00</div>
<div class="t" style="left:238.7px;top:260px;font-size:2.7px;color:#aeb1b9;font-weight:normal;">07:30</div>
<div class="t" style="left:246.75px;width:12px;text-align:center;top:270px;font-size:2.7px;color:#a5a8b0">Jan</div>
<div class="t" style="left:257.75px;width:12px;text-align:center;top:270px;font-size:2.7px;color:#a5a8b0">Feb</div>
<div class="t" style="left:268.55px;width:12px;text-align:center;top:270px;font-size:2.7px;color:#a5a8b0">Mar</div>
<div class="t" style="left:279.55px;width:12px;text-align:center;top:270px;font-size:2.7px;color:#a5a8b0">Apr</div>
<div class="t" style="left:290.45px;width:12px;text-align:center;top:270px;font-size:2.7px;color:#a5a8b0">May</div>
<div class="a" style="left:308.9px;top:184.9px;width:68.40px;height:89.70px;background:#fff;border:0.5px solid #f0f1f4;border-radius:2.5px"></div>
<div class="t" style="left:311.3px;top:189px;font-size:4.1px;color:#1b1c22;font-weight:normal;">Company Announcements</div>
<svg class="a" style="left:0;top:0" width="400" height="300"><rect x="369.60" y="188.20" width="4.9" height="5.4" rx="1" fill="#fff" stroke="#e6e8ec" stroke-width="0.5"/><circle cx="372.05" cy="189.70" r="0.5" fill="#45474e"/><circle cx="372.05" cy="190.90" r="0.5" fill="#45474e"/><circle cx="372.05" cy="192.10" r="0.5" fill="#45474e"/></svg>
<div class="a" style="left:312.7px;top:202.9px;width:5.70px;height:5.80px;background:#f6f7f9;border:0.4px solid #eef0f3;border-radius:1px"></div>
<div class="t" style="left:312.7px;width:5.7px;text-align:center;top:205px;font-size:3px;color:#2a2b33">1</div>
<div class="t" style="left:321.8px;top:202px;font-size:3.45px;color:#1b1c22;font-weight:normal;">Company Townhall</div>
<div class="t" style="left:321.8px;top:209px;font-size:2.7px;color:#aeb1b9;font-weight:normal;">Dec 5, 2025 • 3 PM</div>
<div class="a" style="left:312.7px;top:218.20000000000002px;width:5.70px;height:5.80px;background:#f6f7f9;border:0.4px solid #eef0f3;border-radius:1px"></div>
<div class="t" style="left:312.7px;width:5.7px;text-align:center;top:220px;font-size:3px;color:#2a2b33">2</div>
<div class="t" style="left:321.8px;top:217px;font-size:3.45px;color:#1b1c22;font-weight:normal;">Performance Review Deadline</div>
<div class="t" style="left:321.8px;top:225px;font-size:2.7px;color:#aeb1b9;font-weight:normal;">Dec 8, 2025</div>
<div class="a" style="left:312.7px;top:233.5px;width:5.70px;height:5.80px;background:#f6f7f9;border:0.4px solid #eef0f3;border-radius:1px"></div>
<div class="t" style="left:312.7px;width:5.7px;text-align:center;top:236px;font-size:3px;color:#2a2b33">3</div>
<div class="t" style="left:321.8px;top:232px;font-size:3.45px;color:#1b1c22;font-weight:normal;">New Office Health Policy</div>
<div class="t" style="left:321.8px;top:240px;font-size:2.7px;color:#aeb1b9;font-weight:normal;">Effective Nov 1, 2025</div>
<div class="a" style="left:312.7px;top:248.8px;width:5.70px;height:5.80px;background:#f6f7f9;border:0.4px solid #eef0f3;border-radius:1px"></div>
<div class="t" style="left:312.7px;width:5.7px;text-align:center;top:251px;font-size:3px;color:#2a2b33">4</div>
<div class="t" style="left:321.8px;top:248px;font-size:3.45px;color:#1b1c22;font-weight:normal;">New HR System Training</div>
<div class="t" style="left:321.8px;top:255px;font-size:2.7px;color:#aeb1b9;font-weight:normal;">Dec 22, 2025 • 10 AM</div>
<div class="a" style="left:312.7px;top:264.1px;width:5.70px;height:5.80px;background:#f6f7f9;border:0.4px solid #eef0f3;border-radius:1px"></div>
<div class="t" style="left:312.7px;width:5.7px;text-align:center;top:266px;font-size:3px;color:#2a2b33">5</div>
<div class="t" style="left:321.8px;top:263px;font-size:3.45px;color:#1b1c22;font-weight:normal;">Diversity &amp; Inclusion Workshop</div>
<div class="t" style="left:321.8px;top:271px;font-size:2.7px;color:#aeb1b9;font-weight:normal;">Dec 24, 2025 • 1 PM</div>
</body></html>
